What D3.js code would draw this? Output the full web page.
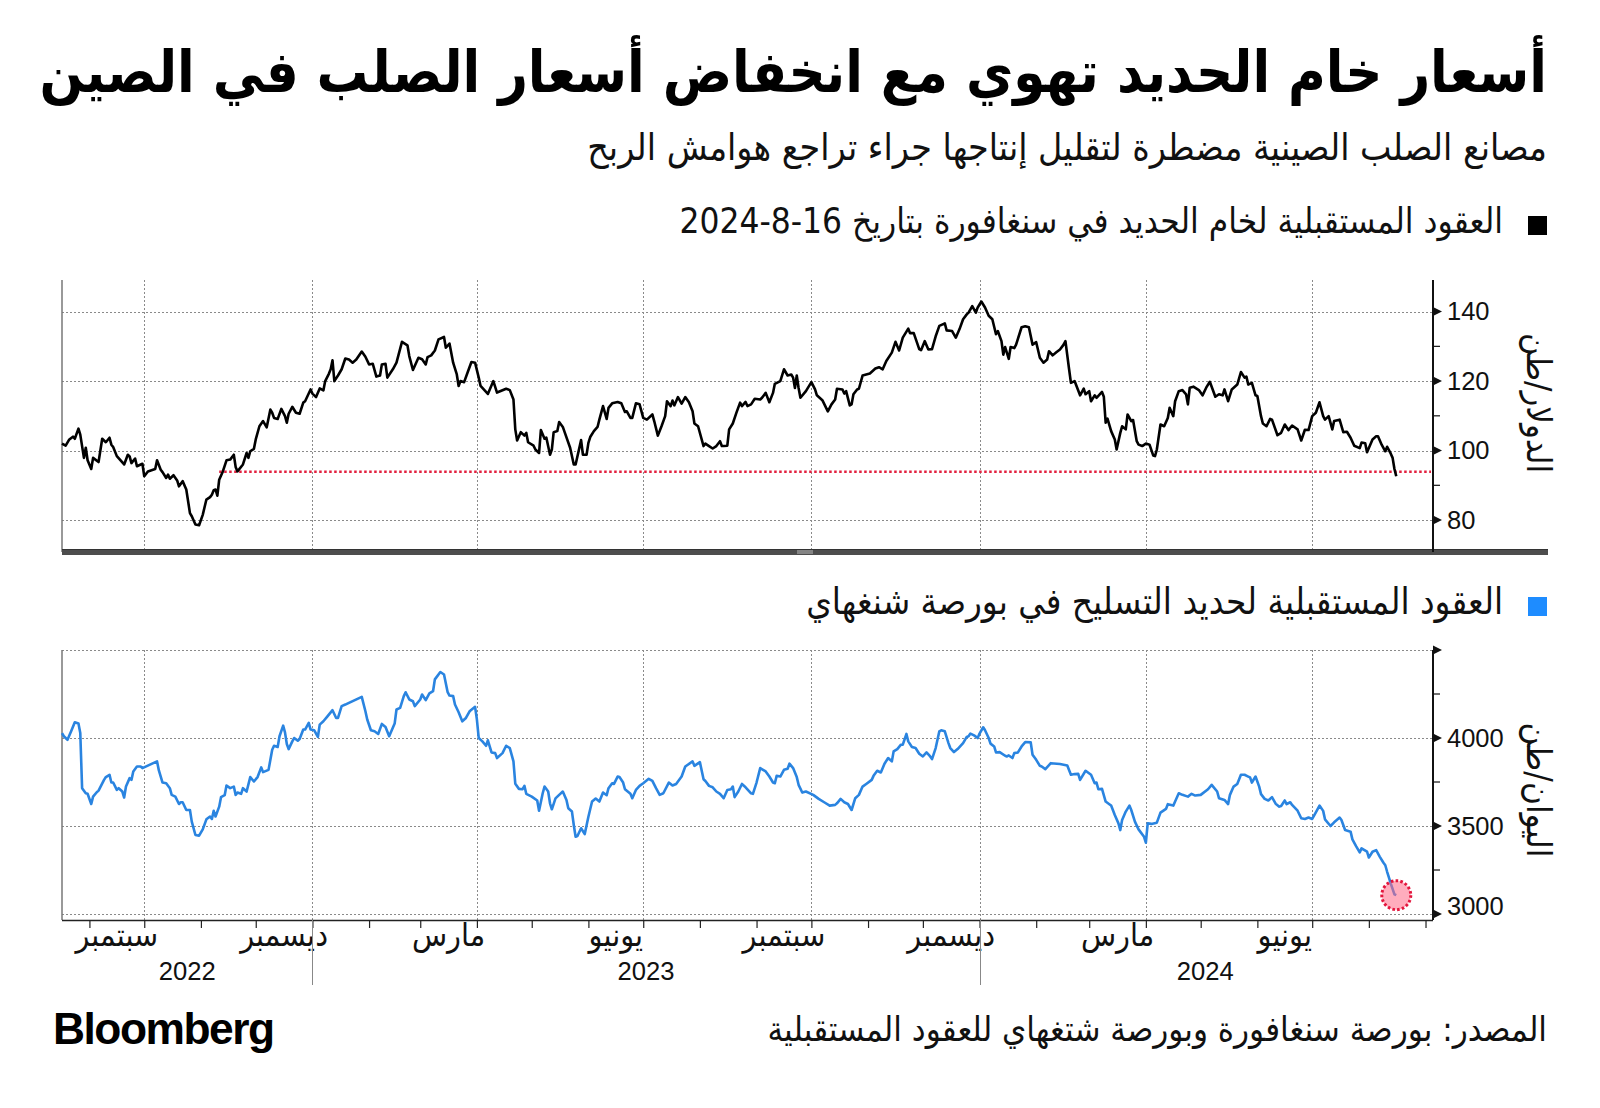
<!DOCTYPE html>
<html><head><meta charset="utf-8">
<script src="https://cdn.jsdelivr.net/npm/d3@7"></script>
<style>
html,body{margin:0;padding:0;background:#fff;}
svg{display:block;}
</style></head>
<body>
<svg id="chart" width="1600" height="1108"></svg>
<script>
// ---------- texts ----------
const titleText = "أسعار خام الحديد تهوي مع انخفاض أسعار الصلب في الصين";
const subtitleText = "مصانع الصلب الصينية مضطرة لتقليل إنتاجها جراء تراجع هوامش الربح";
const legendIron = "العقود المستقبلية لخام الحديد في سنغافورة بتاريخ 16-8-2024";
const legendRebar = "العقود المستقبلية لحديد التسليح في بورصة شنغهاي";
const sourceText = "المصدر: بورصة سنغافورة وبورصة شتغهاي للعقود المستقبلية";
const ironUnit = "الدولار/طن";
const rebarUnit = "اليوان/طن";
const logoText = "Bloomberg";

// ---------- axis categories ----------
const xDomain = ["2022-08-17", "2024-09-04"];
const monthLabelStarts = ["2022-09-01","2022-12-01","2023-03-01","2023-06-01","2023-09-01","2023-12-01","2024-03-01","2024-06-01"];
const monthLabelNames = ["سبتمبر","ديسمبر","مارس","يونيو","سبتمبر","ديسمبر","مارس","يونيو"];
const yearLabels = ["2022","2023","2024"];
const ironDomain = [70.8, 149.1];
const ironTicks = [80, 100, 120, 140];
const ironMinorTicks = [90, 110, 130];
const rebarDomain = [2966, 4500];
const rebarTicks = [3000, 3500, 4000, 4500];
const rebarLabelTicks = [3000, 3500, 4000];
const rebarMinorTicks = [3250, 3750, 4250];
const ironRefLevel = 93.9;
const ironRefStart = "2022-11-11";

// ---------- series ----------
const ironSeries = [
["2022-08-17",102.0],["2022-08-19",101.4],["2022-08-21",103.2],["2022-08-23",104.0],["2022-08-24",103.4],["2022-08-26",106.3],["2022-08-27",104.6],["2022-08-29",97.9],["2022-08-30",100.8],["2022-08-31",97.2],
["2022-09-02",94.7],["2022-09-03",97.9],["2022-09-06",96.7],["2022-09-08",103.4],["2022-09-10",102.4],["2022-09-12",103.7],["2022-09-13",101.7],["2022-09-14",101.0],["2022-09-16",98.4],["2022-09-20",96.0],["2022-09-22",98.8],["2022-09-23",98.3],["2022-09-24",96.4],["2022-09-26",97.7],["2022-09-27",95.5],["2022-09-30",96.2],
["2022-10-01",92.6],["2022-10-03",94.0],["2022-10-07",94.7],["2022-10-08",97.2],["2022-10-10",94.5],["2022-10-11",93.8],["2022-10-13",92.1],["2022-10-14",93.1],["2022-10-15",91.9],["2022-10-17",92.9],["2022-10-19",91.4],["2022-10-20",89.7],["2022-10-22",91.2],["2022-10-24",88.8],["2022-10-26",82.0],["2022-10-27",81.1],["2022-10-29",78.7],["2022-10-31",78.5],
["2022-11-02",81.5],["2022-11-04",85.9],["2022-11-06",86.6],["2022-11-07",87.3],["2022-11-08",88.6],["2022-11-09",88.8],["2022-11-10",87.0],["2022-11-11",91.6],["2022-11-13",94.0],["2022-11-15",97.2],["2022-11-17",97.4],["2022-11-19",98.8],["2022-11-20",95.3],["2022-11-21",94.0],["2022-11-24",96.0],["2022-11-26",99.3],["2022-11-27",97.9],["2022-11-28",99.8],["2022-11-30",100.5],
["2022-12-01",103.2],["2022-12-03",107.0],["2022-12-05",108.5],["2022-12-07",106.7],["2022-12-09",111.8],["2022-12-10",110.9],["2022-12-11",109.4],["2022-12-13",109.1],["2022-12-15",112.0],["2022-12-17",109.9],["2022-12-18",108.0],["2022-12-19",110.6],["2022-12-21",112.6],["2022-12-23",110.9],["2022-12-25",110.6],["2022-12-27",113.8],["2022-12-28",114.2],["2022-12-31",117.6],
["2023-01-01",116.4],["2023-01-03",115.4],["2023-01-05",117.9],["2023-01-07",117.3],["2023-01-08",120.0],["2023-01-10",122.1],["2023-01-11",123.4],["2023-01-12",126.0],["2023-01-13",120.0],["2023-01-15",121.6],["2023-01-17",123.4],["2023-01-19",126.5],["2023-01-21",126.2],["2023-01-23",125.3],["2023-01-25",126.2],["2023-01-28",128.5],["2023-01-30",127.0],
["2023-02-01",124.8],["2023-02-03",125.0],["2023-02-05",121.3],["2023-02-07",121.6],["2023-02-08",124.8],["2023-02-10",125.0],["2023-02-11",121.0],["2023-02-14",123.4],["2023-02-16",125.3],["2023-02-19",131.3],["2023-02-22",130.3],["2023-02-23",127.2],["2023-02-25",123.2],["2023-02-28",126.7],
["2023-03-02",126.3],["2023-03-04",124.8],["2023-03-05",126.9],["2023-03-07",127.4],["2023-03-09",128.8],["2023-03-11",132.0],["2023-03-14",132.7],["2023-03-15",129.6],["2023-03-17",130.8],["2023-03-19",125.3],["2023-03-21",121.9],["2023-03-22",118.6],["2023-03-23",120.0],["2023-03-25",119.7],["2023-03-27",122.6],["2023-03-29",125.5],["2023-03-31",125.3],
["2023-04-02",121.0],["2023-04-03",118.6],["2023-04-07",116.3],["2023-04-10",120.0],["2023-04-12",116.7],["2023-04-17",117.8],["2023-04-19",117.4],["2023-04-21",114.7],["2023-04-22",106.1],["2023-04-23",102.9],["2023-04-25",105.3],["2023-04-27",104.3],["2023-04-28",105.1],["2023-04-29",102.4],
["2023-05-02",101.4],["2023-05-03",100.3],["2023-05-05",99.3],["2023-05-06",105.9],["2023-05-08",103.4],["2023-05-09",103.7],["2023-05-11",98.8],["2023-05-12",100.3],["2023-05-13",105.3],["2023-05-15",105.6],["2023-05-16",108.2],["2023-05-18",106.8],["2023-05-19",105.3],["2023-05-22",100.8],["2023-05-24",96.0],["2023-05-25",96.0],["2023-05-28",103.0],["2023-05-29",98.8],["2023-05-31",98.8],
["2023-06-01",102.2],["2023-06-02",103.9],["2023-06-04",105.6],["2023-06-06",106.8],["2023-06-07",108.9],["2023-06-09",112.8],["2023-06-11",109.1],["2023-06-12",112.3],["2023-06-14",113.6],["2023-06-17",114.0],["2023-06-19",113.6],["2023-06-21",111.1],["2023-06-22",111.3],["2023-06-24",109.4],["2023-06-25",109.4],["2023-06-27",113.6],["2023-06-29",113.3],
["2023-07-01",109.4],["2023-07-03",108.9],["2023-07-06",110.4],["2023-07-07",108.5],["2023-07-09",104.3],["2023-07-11",107.0],["2023-07-13",109.9],["2023-07-14",114.2],["2023-07-16",112.8],["2023-07-17",114.4],["2023-07-18",113.0],["2023-07-20",115.4],["2023-07-22",113.5],["2023-07-24",115.4],["2023-07-26",113.9],["2023-07-28",111.3],["2023-07-29",107.8],["2023-07-31",107.0],
["2023-08-03",101.3],["2023-08-04",102.0],["2023-08-06",101.3],["2023-08-08",100.6],["2023-08-10",101.3],["2023-08-12",102.7],["2023-08-13",101.3],["2023-08-14",101.3],["2023-08-16",101.4],["2023-08-17",106.1],["2023-08-19",107.8],["2023-08-21",110.9],["2023-08-23",113.8],["2023-08-24",112.8],["2023-08-26",114.0],["2023-08-27",112.8],["2023-08-29",113.3],["2023-08-31",114.9],
["2023-09-03",114.7],["2023-09-04",115.2],["2023-09-06",116.6],["2023-09-08",113.9],["2023-09-10",116.6],["2023-09-11",119.2],["2023-09-14",120.0],["2023-09-16",123.4],["2023-09-18",121.6],["2023-09-20",121.9],["2023-09-21",121.0],["2023-09-22",118.0],["2023-09-23",121.6],["2023-09-24",118.0],["2023-09-25",115.2],["2023-09-28",117.1],
["2023-10-01",119.7],["2023-10-03",117.6],["2023-10-04",115.9],["2023-10-07",114.5],["2023-10-10",111.3],["2023-10-12",113.3],["2023-10-14",114.7],["2023-10-15",117.8],["2023-10-18",117.6],["2023-10-19",116.4],["2023-10-20",117.1],["2023-10-22",113.0],["2023-10-23",113.3],["2023-10-24",116.2],["2023-10-26",117.6],["2023-10-27",117.8],["2023-10-29",121.6],
["2023-11-02",122.2],["2023-11-05",123.6],["2023-11-07",124.0],["2023-11-09",123.4],["2023-11-11",125.8],["2023-11-14",128.2],["2023-11-16",131.3],["2023-11-18",128.8],["2023-11-20",132.5],["2023-11-23",135.1],["2023-11-24",133.8],["2023-11-26",133.8],["2023-11-29",129.2],["2023-11-30",128.9],
["2023-12-02",131.5],["2023-12-04",129.1],["2023-12-06",129.2],["2023-12-08",132.9],["2023-12-10",135.9],["2023-12-13",136.6],["2023-12-14",134.6],["2023-12-17",134.4],["2023-12-19",132.5],["2023-12-21",134.9],["2023-12-23",137.8],["2023-12-25",139.2],["2023-12-26",139.7],["2023-12-28",141.6],["2023-12-30",139.7],["2023-12-31",141.2],
["2024-01-02",142.9],["2024-01-04",141.2],["2024-01-06",138.8],["2024-01-08",137.8],["2024-01-10",133.5],["2024-01-11",134.4],["2024-01-13",131.5],["2024-01-14",127.6],["2024-01-15",129.8],["2024-01-17",126.4],["2024-01-18",129.8],["2024-01-20",129.5],["2024-01-21",130.5],["2024-01-24",135.5],["2024-01-26",135.8],["2024-01-28",135.5],["2024-01-30",130.5],
["2024-02-01",131.2],["2024-02-03",126.7],["2024-02-05",125.3],["2024-02-07",126.2],["2024-02-08",128.6],["2024-02-10",127.4],["2024-02-12",128.3],["2024-02-14",129.1],["2024-02-16",130.5],["2024-02-17",131.5],["2024-02-19",123.4],["2024-02-20",119.5],["2024-02-22",120.0],["2024-02-25",115.9],["2024-02-27",117.8],["2024-02-28",116.2],
["2024-03-01",117.1],["2024-03-02",114.2],["2024-03-04",115.9],["2024-03-05",115.2],["2024-03-08",116.9],["2024-03-09",115.5],["2024-03-10",108.0],["2024-03-11",109.2],["2024-03-13",105.6],["2024-03-15",103.2],["2024-03-16",100.3],["2024-03-18",105.1],["2024-03-19",107.0],["2024-03-21",106.1],["2024-03-22",110.4],["2024-03-24",108.5],["2024-03-25",108.8],["2024-03-27",102.7],["2024-03-28",101.7],["2024-03-30",101.3],
["2024-04-01",102.0],["2024-04-03",101.7],["2024-04-05",98.6],["2024-04-06",98.4],["2024-04-07",100.3],["2024-04-09",107.5],["2024-04-11",107.0],["2024-04-13",109.4],["2024-04-14",112.3],["2024-04-16",109.9],["2024-04-17",114.2],["2024-04-19",117.1],["2024-04-21",117.4],["2024-04-23",116.2],["2024-04-24",113.3],["2024-04-25",118.1],["2024-04-27",118.4],["2024-04-30",117.4],
["2024-05-02",115.9],["2024-05-04",118.1],["2024-05-06",119.8],["2024-05-09",115.5],["2024-05-11",116.2],["2024-05-13",115.9],["2024-05-14",117.6],["2024-05-16",114.2],["2024-05-18",117.6],["2024-05-21",119.0],["2024-05-23",122.6],["2024-05-25",121.0],["2024-05-26",121.3],["2024-05-27",119.0],["2024-05-29",119.5],["2024-05-31",115.9],
["2024-06-01",115.7],["2024-06-03",109.9],["2024-06-04",107.8],["2024-06-06",107.0],["2024-06-08",109.1],["2024-06-09",108.9],["2024-06-12",104.4],["2024-06-14",105.1],["2024-06-16",107.5],["2024-06-18",105.9],["2024-06-20",107.2],["2024-06-23",106.1],["2024-06-25",102.9],["2024-06-27",106.0],["2024-06-29",105.9],
["2024-07-01",109.9],["2024-07-03",110.9],["2024-07-05",113.9],["2024-07-07",109.9],["2024-07-08",108.9],["2024-07-10",109.9],["2024-07-12",106.1],["2024-07-13",108.5],["2024-07-16",108.9],["2024-07-18",105.3],["2024-07-20",105.4],["2024-07-22",103.7],["2024-07-24",101.4],["2024-07-27",100.7],["2024-07-28",102.3],["2024-07-30",102.1],["2024-07-31",99.5],
["2024-08-03",103.2],["2024-08-05",104.1],["2024-08-06",104.1],["2024-08-08",101.7],["2024-08-10",99.8],["2024-08-11",101.1],["2024-08-13",99.1],["2024-08-14",97.9],["2024-08-15",94.7],["2024-08-16",92.6]
];

const rebarSeries = [
["2022-08-17",4028],["2022-08-18",4010],["2022-08-20",3990],["2022-08-22",4038],["2022-08-24",4089],["2022-08-26",4082],["2022-08-27",4028],["2022-08-28",3715],["2022-08-30",3686],["2022-08-31",3683],
["2022-09-02",3625],["2022-09-03",3667],["2022-09-05",3692],["2022-09-06",3701],["2022-09-09",3762],["2022-09-10",3778],["2022-09-12",3791],["2022-09-13",3747],["2022-09-14",3747],["2022-09-16",3705],["2022-09-17",3715],["2022-09-19",3696],["2022-09-20",3662],["2022-09-21",3724],["2022-09-23",3772],["2022-09-24",3762],["2022-09-25",3810],["2022-09-27",3838],["2022-09-29",3838],["2022-09-30",3829],
["2022-10-08",3867],["2022-10-09",3816],["2022-10-11",3747],["2022-10-13",3743],["2022-10-15",3715],["2022-10-16",3677],["2022-10-18",3667],["2022-10-20",3625],["2022-10-21",3635],["2022-10-22",3635],["2022-10-24",3591],["2022-10-26",3591],["2022-10-27",3525],["2022-10-29",3449],["2022-10-31",3445],
["2022-11-02",3481],["2022-11-04",3538],["2022-11-06",3554],["2022-11-07",3540],["2022-11-08",3586],["2022-11-09",3554],["2022-11-11",3610],["2022-11-12",3664],["2022-11-14",3675],["2022-11-15",3730],["2022-11-17",3715],["2022-11-19",3724],["2022-11-20",3677],["2022-11-21",3690],["2022-11-23",3683],["2022-11-24",3715],["2022-11-26",3696],["2022-11-28",3778],["2022-11-30",3753],
["2022-12-02",3778],["2022-12-04",3833],["2022-12-05",3806],["2022-12-08",3819],["2022-12-10",3933],["2022-12-11",3956],["2022-12-13",3949],["2022-12-14",4010],["2022-12-16",4070],["2022-12-17",4032],["2022-12-18",3966],["2022-12-19",3937],["2022-12-21",3981],["2022-12-22",4000],["2022-12-24",3985],["2022-12-25",3994],["2022-12-27",4048],["2022-12-28",4048],["2022-12-30",4086],["2022-12-31",4048],
["2023-01-02",4044],["2023-01-04",4006],["2023-01-05",4076],["2023-01-07",4095],["2023-01-09",4120],["2023-01-10",4133],["2023-01-12",4158],["2023-01-14",4114],["2023-01-15",4114],["2023-01-17",4181],["2023-01-19",4190],["2023-01-21",4200],["2023-01-28",4234],["2023-01-30",4152],["2023-01-31",4105],
["2023-02-02",4044],["2023-02-04",4038],["2023-02-06",4023],["2023-02-08",4080],["2023-02-10",4063],["2023-02-12",4010],["2023-02-15",4082],["2023-02-16",4162],["2023-02-18",4171],["2023-02-20",4238],["2023-02-21",4260],["2023-02-23",4219],["2023-02-25",4209],["2023-02-26",4181],
["2023-03-01",4219],["2023-03-02",4247],["2023-03-04",4215],["2023-03-06",4253],["2023-03-08",4266],["2023-03-09",4333],["2023-03-12",4375],["2023-03-14",4361],["2023-03-16",4260],["2023-03-17",4241],["2023-03-19",4238],["2023-03-20",4190],["2023-03-22",4146],["2023-03-24",4095],["2023-03-26",4114],["2023-03-28",4152],["2023-03-31",4177],
["2023-04-01",4105],["2023-04-02",4000],["2023-04-04",3981],["2023-04-06",3956],["2023-04-07",3987],["2023-04-09",3918],["2023-04-11",3914],["2023-04-12",3886],["2023-04-15",3914],["2023-04-17",3956],["2023-04-19",3943],["2023-04-21",3867],["2023-04-22",3740],["2023-04-24",3711],["2023-04-26",3709],["2023-04-27",3728],["2023-04-28",3683],
["2023-05-01",3667],["2023-05-04",3645],["2023-05-05",3587],["2023-05-07",3686],["2023-05-08",3724],["2023-05-10",3696],["2023-05-11",3629],["2023-05-12",3595],["2023-05-14",3657],["2023-05-16",3677],["2023-05-18",3696],["2023-05-20",3648],["2023-05-21",3601],["2023-05-23",3582],["2023-05-24",3506],["2023-05-25",3439],["2023-05-26",3443],["2023-05-28",3487],["2023-05-30",3454],
["2023-06-01",3553],["2023-06-03",3639],["2023-06-05",3656],["2023-06-07",3639],["2023-06-09",3690],["2023-06-11",3675],["2023-06-12",3715],["2023-06-14",3743],["2023-06-15",3739],["2023-06-17",3781],["2023-06-18",3778],["2023-06-20",3747],["2023-06-21",3709],["2023-06-24",3683],["2023-06-25",3658],["2023-06-27",3705],["2023-06-29",3728],
["2023-07-01",3743],["2023-07-04",3768],["2023-07-06",3756],["2023-07-08",3715],["2023-07-10",3677],["2023-07-12",3686],["2023-07-15",3747],["2023-07-17",3730],["2023-07-19",3739],["2023-07-22",3781],["2023-07-24",3838],["2023-07-28",3867],["2023-07-29",3842],
["2023-08-01",3863],["2023-08-03",3766],["2023-08-04",3756],["2023-08-06",3728],["2023-08-08",3720],["2023-08-10",3696],["2023-08-12",3683],["2023-08-14",3658],["2023-08-16",3705],["2023-08-18",3709],["2023-08-19",3724],["2023-08-20",3664],["2023-08-22",3696],["2023-08-24",3739],["2023-08-26",3720],["2023-08-29",3686],["2023-08-30",3683],
["2023-09-01",3747],["2023-09-03",3829],["2023-09-06",3810],["2023-09-08",3781],["2023-09-10",3747],["2023-09-11",3743],["2023-09-12",3785],["2023-09-14",3781],["2023-09-16",3819],["2023-09-18",3825],["2023-09-19",3854],["2023-09-21",3829],["2023-09-23",3778],["2023-09-24",3734],["2023-09-26",3690],["2023-09-28",3696],
["2023-10-02",3677],["2023-10-05",3654],["2023-10-08",3635],["2023-10-11",3616],["2023-10-14",3620],["2023-10-15",3629],["2023-10-17",3654],["2023-10-19",3635],["2023-10-21",3625],["2023-10-23",3591],["2023-10-25",3658],["2023-10-27",3677],["2023-10-29",3724],["2023-10-31",3739],
["2023-11-03",3762],["2023-11-04",3785],["2023-11-06",3814],["2023-11-08",3804],["2023-11-10",3854],["2023-11-12",3886],["2023-11-14",3867],["2023-11-15",3924],["2023-11-17",3937],["2023-11-19",3962],["2023-11-20",3962],["2023-11-22",4023],["2023-11-23",3981],["2023-11-25",3949],["2023-11-27",3943],["2023-11-29",3911],
["2023-12-01",3895],["2023-12-03",3918],["2023-12-05",3895],["2023-12-06",3880],["2023-12-08",3943],["2023-12-10",4038],["2023-12-11",4044],["2023-12-13",4038],["2023-12-15",3971],["2023-12-16",3943],["2023-12-18",3920],["2023-12-20",3937],["2023-12-23",3971],["2023-12-25",4006],["2023-12-26",4010],["2023-12-27",4025],["2023-12-29",4015],["2023-12-31",4000],
["2024-01-01",4025],["2024-01-03",4061],["2024-01-04",4044],["2024-01-06",4000],["2024-01-07",3968],["2024-01-09",3952],["2024-01-10",3918],["2024-01-12",3920],["2024-01-15",3899],["2024-01-16",3895],["2024-01-17",3901],["2024-01-19",3886],["2024-01-20",3914],["2024-01-22",3918],["2024-01-24",3952],["2024-01-26",3977],["2024-01-29",3975],["2024-01-30",3905],
["2024-02-01",3876],["2024-02-03",3842],["2024-02-04",3838],["2024-02-06",3823],["2024-02-07",3835],["2024-02-09",3857],["2024-02-14",3852],["2024-02-18",3844],["2024-02-20",3791],["2024-02-22",3795],["2024-02-24",3796],["2024-02-25",3762],["2024-02-28",3814],
["2024-03-02",3791],["2024-03-04",3743],["2024-03-05",3747],["2024-03-06",3709],["2024-03-08",3711],["2024-03-10",3639],["2024-03-12",3624],["2024-03-13",3616],["2024-03-15",3563],["2024-03-17",3515],["2024-03-18",3477],["2024-03-19",3534],["2024-03-21",3582],["2024-03-23",3616],["2024-03-24",3591],["2024-03-26",3525],["2024-03-28",3481],["2024-03-31",3439],
["2024-04-01",3405],["2024-04-02",3515],["2024-04-04",3512],["2024-04-07",3519],["2024-04-09",3576],["2024-04-12",3597],["2024-04-13",3624],["2024-04-16",3616],["2024-04-17",3639],["2024-04-19",3686],["2024-04-21",3677],["2024-04-24",3667],["2024-04-26",3683],["2024-04-28",3673],
["2024-05-01",3677],["2024-05-05",3709],["2024-05-07",3734],["2024-05-10",3696],["2024-05-11",3658],["2024-05-14",3648],["2024-05-16",3625],["2024-05-17",3677],["2024-05-19",3724],["2024-05-21",3739],["2024-05-23",3791],["2024-05-25",3791],["2024-05-27",3781],["2024-05-28",3776],["2024-05-29",3747],["2024-05-31",3781],
["2024-06-02",3724],["2024-06-03",3681],["2024-06-05",3654],["2024-06-07",3645],["2024-06-09",3664],["2024-06-11",3627],["2024-06-13",3610],["2024-06-14",3614],["2024-06-16",3645],["2024-06-17",3624],["2024-06-19",3635],["2024-06-20",3620],["2024-06-23",3587],["2024-06-25",3544],["2024-06-27",3540],["2024-06-29",3548],
["2024-07-01",3540],["2024-07-03",3578],["2024-07-05",3616],["2024-07-07",3586],["2024-07-08",3538],["2024-07-11",3500],["2024-07-13",3521],["2024-07-16",3548],["2024-07-17",3534],["2024-07-19",3477],["2024-07-22",3468],["2024-07-23",3424],["2024-07-25",3386],["2024-07-27",3350],["2024-07-28",3373],["2024-07-31",3354],
["2024-08-01",3321],["2024-08-03",3354],["2024-08-05",3363],["2024-08-07",3325],["2024-08-09",3291],["2024-08-10",3277],["2024-08-11",3240],["2024-08-12",3207],["2024-08-13",3173],["2024-08-15",3112],["2024-08-16",3107]
];

// ---------- colours ----------
const ironColor = "#000000";
const rebarColor = "#2a84e0";
const rebarLegendColor = "#1e8cff";
const refColor = "#e3213f";
const gridColor = "#8a8a8a";

// ---------- layout ----------
const plotLeft = 62, axisX = 1433;
const topPanel = {top: 280, bottom: 552};
const botPanel = {top: 650, bottom: 920};
const AR = "'DejaVu Sans Condensed','DejaVu Sans',sans-serif";
const NUM = "'Liberation Sans',Arial,sans-serif";
const NUM_NARROW = "'Liberation Sans Narrow','Arial Narrow','Liberation Sans',sans-serif";

const parse = d3.utcParse("%Y-%m-%d");
const svg = d3.select("#chart");

const x = d3.scaleUtc().domain(xDomain.map(parse)).range([plotLeft, 1431]);
const yIron = d3.scaleLinear().domain(ironDomain).range([topPanel.bottom, topPanel.top]);
const yRebar = d3.scaleLinear().domain(rebarDomain).range([botPanel.bottom, botPanel.top]);

function fit(sel, target, maxSize) {
  sel.style("font-size", "100px");
  const w = sel.node().getComputedTextLength();
  const s = Math.min(maxSize, 100 * target / w);
  sel.style("font-size", s + "px");
  return s;
}

// ---------- header ----------
const title = svg.append("text").attr("x", 1547).attr("y", 92).attr("text-anchor", "end")
  .style("font-family", AR).style("font-weight", "bold").attr("fill", "#000").text(titleText);
fit(title, 1508, 80);

const sub = svg.append("text").attr("x", 1547).attr("y", 160).attr("text-anchor", "end")
  .style("font-family", AR).attr("fill", "#111").text(subtitleText);
fit(sub, 960, 44);

function legend(y, color, txt, width) {
  svg.append("rect").attr("x", 1528).attr("y", y - 17).attr("width", 19).attr("height", 19).attr("fill", color);
  const t = svg.append("text").attr("x", 1503).attr("y", y).attr("text-anchor", "end")
    .style("font-family", AR).attr("fill", "#111").text(txt);
  fit(t, width, 44);
}
legend(233, ironColor, legendIron, 824);
legend(614, rebarLegendColor, legendRebar, 697);

// ---------- gridlines ----------
const gridDates = d3.utcMonth.every(3).range(x.domain()[0], x.domain()[1]);
function panelGrid(panel, yScale, ticks) {
  const g = svg.append("g").attr("stroke", gridColor).attr("stroke-width", 1).attr("stroke-dasharray", "2,2");
  g.selectAll("line.h").data(ticks).join("line").attr("class", "h")
    .attr("x1", plotLeft).attr("x2", axisX).attr("y1", d => Math.round(yScale(d)) + 0.5).attr("y2", d => Math.round(yScale(d)) + 0.5);
  g.selectAll("line.v").data(gridDates).join("line").attr("class", "v")
    .attr("x1", d => Math.round(x(d)) + 0.5).attr("x2", d => Math.round(x(d)) + 0.5)
    .attr("y1", panel.top).attr("y2", panel.bottom);
}
panelGrid(topPanel, yIron, ironTicks);
panelGrid(botPanel, yRebar, rebarTicks);

// left frame lines
[topPanel, botPanel].forEach(p => {
  svg.append("line").attr("x1", plotLeft).attr("x2", plotLeft).attr("y1", p.top).attr("y2", p.bottom)
    .attr("stroke", "#777").attr("stroke-width", 1.5);
});

// ---------- reference line ----------
svg.append("line")
  .attr("x1", x(parse(ironRefStart))).attr("x2", axisX - 2)
  .attr("y1", yIron(ironRefLevel)).attr("y2", yIron(ironRefLevel))
  .attr("stroke", refColor).attr("stroke-width", 2.5).attr("stroke-dasharray", "2.5,2.5");

// ---------- lines ----------
const ironData = ironSeries.map(d => ({date: parse(d[0]), v: d[1]}));
const rebarData = rebarSeries.map(d => ({date: parse(d[0]), v: d[1]}));

svg.append("path").datum(ironData)
  .attr("d", d3.line().x(d => x(d.date)).y(d => yIron(d.v)))
  .attr("fill", "none").attr("stroke", ironColor).attr("stroke-width", 2.6).attr("stroke-linejoin", "round");

svg.append("path").datum(rebarData)
  .attr("d", d3.line().x(d => x(d.date)).y(d => yRebar(d.v)))
  .attr("fill", "none").attr("stroke", rebarColor).attr("stroke-width", 2.6).attr("stroke-linejoin", "round");

// highlight circle at latest rebar value
const lastRebar = rebarData[rebarData.length - 1];
svg.append("circle").attr("cx", x(lastRebar.date)).attr("cy", yRebar(lastRebar.v)).attr("r", 14.5)
  .attr("fill", "rgba(255,105,135,0.55)").attr("stroke", "#e3163d").attr("stroke-width", 3).attr("stroke-dasharray", "2.6,2.2");

// ---------- top panel bottom band (splitter) ----------
svg.append("rect").attr("x", plotLeft).attr("y", 549).attr("width", 1548 - plotLeft).attr("height", 6).attr("fill", "#4d4d4d");
svg.append("line").attr("x1", plotLeft).attr("x2", 1548).attr("y1", 549.5).attr("y2", 549.5).attr("stroke", "#333").attr("stroke-width", 1);
svg.append("rect").attr("x", 797).attr("y", 550.5).attr("width", 16).attr("height", 1).attr("fill", "#bbb");
svg.append("rect").attr("x", 797).attr("y", 552.5).attr("width", 16).attr("height", 1).attr("fill", "#bbb");

// ---------- right axes ----------
function rightAxis(panel, yScale, major, labelled, minor, fmt) {
  const g = svg.append("g");
  g.append("line").attr("x1", axisX).attr("x2", axisX).attr("y1", panel.top).attr("y2", panel.bottom)
    .attr("stroke", "#111").attr("stroke-width", 2);
  g.selectAll("path.tri").data(major).join("path").attr("class", "tri")
    .attr("d", d => { const y = yScale(d); return `M${axisX},${y - 4.5}L${axisX + 9},${y}L${axisX},${y + 4.5}Z`; })
    .attr("fill", "#111");
  g.selectAll("line.minor").data(minor).join("line").attr("class", "minor")
    .attr("x1", axisX).attr("x2", axisX + 7).attr("y1", d => yScale(d)).attr("y2", d => yScale(d))
    .attr("stroke", "#111").attr("stroke-width", 1.2);
  const ax = d3.axisRight(yScale).tickValues(labelled).tickSize(0).tickPadding(14).tickFormat(fmt);
  const ag = g.append("g").attr("transform", `translate(${axisX},0)`).call(ax);
  ag.select(".domain").remove();
  ag.selectAll("text").style("font-family", NUM).style("font-size", "25.5px").attr("fill", "#111");
  return ag;
}
rightAxis(topPanel, yIron, ironTicks, ironTicks, ironMinorTicks, d3.format("d"));
const rAx = rightAxis(botPanel, yRebar, rebarTicks, rebarLabelTicks, rebarMinorTicks, d3.format("d"));
// the lowest label sits just above its tick so it stays inside the panel
rAx.selectAll(".tick").filter(d => d === d3.min(rebarLabelTicks)).select("text").attr("dy", "0em");

// axis titles (rotated)
function unitTitle(txt, cy, width) {
  const t = svg.append("text").attr("transform", `translate(1527,${cy}) rotate(90)`)
    .attr("text-anchor", "middle").style("font-family", AR).attr("fill", "#111").text(txt);
  fit(t, width, 36);
}
unitTitle(ironUnit, 403, 140);
unitTitle(rebarUnit, 790, 135);

// ---------- bottom x axis ----------
const xAxis = d3.axisBottom(x).tickValues(d3.utcMonth.range(x.domain()[0], x.domain()[1])).tickSize(8).tickFormat("");
const xg = svg.append("g").attr("transform", `translate(0,${botPanel.bottom})`).call(xAxis);
xg.select(".domain").attr("d", `M${plotLeft},0.5H${axisX}`).attr("stroke", "#222").attr("stroke-width", 1.5);
xg.selectAll(".tick line").attr("stroke", "#222").attr("stroke-width", 1.2);

// month labels centred within their month
const mLabels = svg.append("g");
monthLabelStarts.forEach((s, i) => {
  const a = parse(s), b = d3.utcMonth.offset(a, 1);
  mLabels.append("text").attr("x", (x(a) + x(b)) / 2).attr("y", 946).attr("text-anchor", "middle")
    .style("font-family", AR).style("font-size", "26px").attr("fill", "#111").text(monthLabelNames[i]);
});
{
  const first = mLabels.select("text");
  const s = fit(first, 85, 32);
  mLabels.selectAll("text").style("font-size", s + "px");
}

// year separators and labels
const yearStarts = d3.utcYear.range(x.domain()[0], x.domain()[1]);
svg.selectAll("line.ysep").data(yearStarts).join("line").attr("class", "ysep")
  .attr("x1", d => Math.round(x(d)) + 0.5).attr("x2", d => Math.round(x(d)) + 0.5)
  .attr("y1", botPanel.bottom).attr("y2", 985).attr("stroke", "#888").attr("stroke-width", 1);
const yLabels = svg.append("g");
yearLabels.forEach(yr => {
  const a = d3.max([parse(yr + "-01-01"), x.domain()[0]]);
  const b = d3.min([parse((+yr + 1) + "-01-01"), x.domain()[1]]);
  yLabels.append("text").attr("x", (x(a) + x(b)) / 2).attr("y", 980).attr("text-anchor", "middle")
    .style("font-family", NUM_NARROW).style("font-size", "30px").attr("fill", "#111").text(yr);
});
{
  const first = yLabels.select("text");
  const s = fit(first, 57, 31);
  yLabels.selectAll("text").style("font-size", s + "px");
}

// ---------- footer ----------
const src = svg.append("text").attr("x", 1547).attr("y", 1041).attr("text-anchor", "end")
  .style("font-family", AR).attr("fill", "#111").text(sourceText);
fit(src, 780, 40);

const logo = svg.append("text").attr("x", 53).attr("y", 1044).attr("text-anchor", "start")
  .style("font-family", NUM).style("font-weight", "bold").style("letter-spacing", "-1.5px").attr("fill", "#000").text(logoText);
fit(logo, 228, 50);
</script>
</body></html>
